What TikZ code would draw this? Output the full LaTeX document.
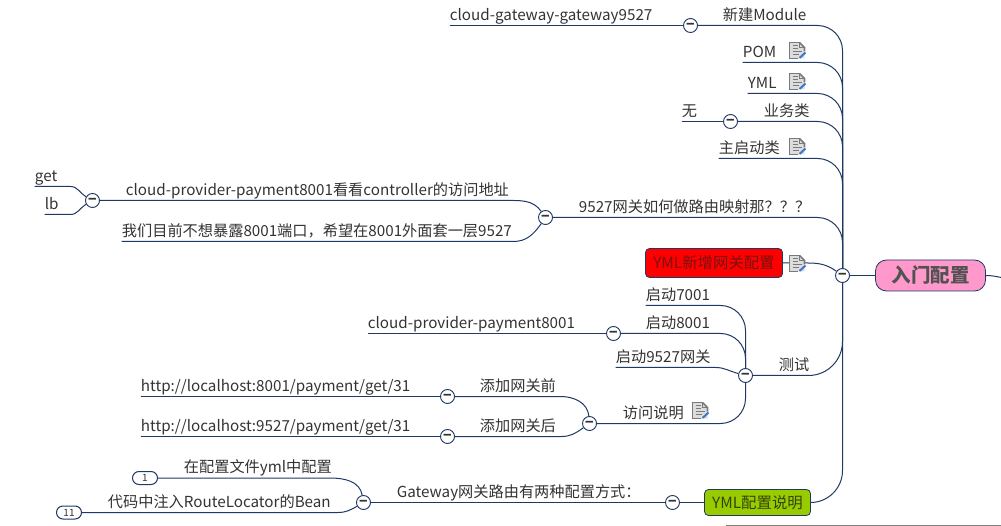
\documentclass[tikz,border=0pt]{standalone}
\usepackage{fontspec}
\setmainfont{Noto Sans CJK SC}
\definecolor{navy}{HTML}{1F3864}
\definecolor{inktext}{HTML}{333333}
\definecolor{notegrey}{HTML}{7A7A7A}
\definecolor{notefill}{HTML}{DDDDDD}
\definecolor{penblue}{HTML}{3F78C8}
\definecolor{pinkroot}{HTML}{FF99CC}
\definecolor{greenbox}{HTML}{99CC00}
\definecolor{redink}{HTML}{7A1010}
\definecolor{greenink}{HTML}{33440A}
\tikzset{
  noteicon/.pic={
    \fill[notefill] (-8,-8) -- (2,-8) -- (7,-3) -- (7,8) -- (-8,8) -- cycle;
    \draw[notegrey,line width=1.6] (2,-8) -- (-8,-8) -- (-8,8) -- (0,8);
    \draw[notegrey,line width=1.6] (2,-8) -- (7,-3) -- (7,1);
    \draw[notegrey,line width=1.2] (2,-8) -- (2,-3) -- (7,-3);
    \draw[notegrey,line width=1.4] (-5,-5) -- (0,-5) (-5,-2) -- (0,-2) (-5,1) -- (4,1) (-5,4) -- (1,4);
    \draw[penblue,line width=2] (2,7.5) -- (8,2);
  }
}
\begin{document}
\begin{tikzpicture}[x=1pt,y=-1pt]
    \tikzstyle{topic} = [anchor=south west, inner xsep=.2, inner ysep=0, text height=11, text depth=5, text=inktext, font=\fontsize{15.2}{17}\selectfont]
    \tikzstyle{cc} = [circle, draw=navy, fill=white, line width=.9, minimum size=14, inner sep=0, text=inktext, text height=7.5, text depth=0, font=\fontsize{14}{14}\selectfont\bfseries]
    \tikzstyle{link} = [draw=navy, line width=1]
    \tikzstyle{roundlink} = [link, rounded corners=25]
    \tikzstyle{box} = [rectangle, rounded corners=4, draw=navy, line width=.8, font=\fontsize{15.4}{17}\selectfont, inner sep=0]
    \tikzstyle{oval} = [rectangle, rounded corners=6.5, draw=navy, line width=1, minimum width=25, minimum height=13, inner sep=0, text=inktext, font=\fontsize{10}{10}\selectfont]
    \useasboundingbox (-.5,-.5) rectangle (1000.5,525.5);
    % root
    \node[box, rounded corners=11, fill=pinkroot, minimum width=110, minimum height=31, text=inktext!85, font=\fontsize{19.5}{22}\selectfont\bfseries] (root) at (930,275) {入门配置};
    \node[cc] (hub) at (842,275) {−};
    \coordinate (rootend) at (1001,277);
    \coordinate (footstart) at (725,525);
    \coordinate (footend) at (1001,525);
    % upper right branches
    \node[cc] (ccmodule) at (690,25) {−};
    \node[topic] at (722,25) (module) {新建Module};
    \node[topic] at (449,25) (gateway) {cloud-gateway-gateway9527};
    \node[topic] at (742,62) (pom) {POM};
    \node[topic] at (747,93) (yml) {YML};
    \node[cc] (ccservice) at (730,121) {−};
    \node[topic] at (763,121) (service) {业务类};
    \node[topic] at (681,121) (none) {无};
    \node[topic] at (718,158) (mainclass) {主启动类};
    % routing question
    \node[cc] (ccmap) at (545,217) {−};
    \node[topic] at (578,217) (mapping) {9527网关如何做路由映射那？？？};
    \node[cc] (ccprovider) at (92,200) {−};
    \node[topic] at (125,200) (provider) {cloud-provider-payment8001看看controller的访问地址};
    \node[topic] at (121,241) (wrap) {我们目前不想暴露8001端口，希望在8001外面套一层9527};
    \node[topic] at (34,186) (get) {get};
    \node[topic] at (44,214) (lb) {lb};
    % red box
    \node[box, fill=red, minimum width=137, minimum height=29, text=redink] (ymlnew) at (713.5,262.5) {YML新增网关配置};
    % test
    \node[cc] (cctest) at (745,375) {−};
    \node[topic] at (778,375) (test) {测试};
    \node[topic] at (645,305) (start7001) {启动7001};
    \node[cc] (ccstart) at (613,333) {−};
    \node[topic] at (645,333) (start8001) {启动8001};
    \node[topic] at (367,333) (payment) {cloud-provider-payment8001};
    \node[topic] at (615,367) (start9527) {启动9527网关};
    \node[cc] (ccvisit) at (589,423) {−};
    \node[topic] at (622,423) (visit) {访问说明};
    \node[cc] (ccbefore) at (447,396) {−};
    \node[topic] at (479,396) (before) {添加网关前};
    \node[topic] at (140,396) (url8001) {http://localhost:8001/payment/get/31};
    \node[cc] (ccafter) at (447,436) {−};
    \node[topic] at (479,436) (after) {添加网关后};
    \node[topic] at (140,436) (url9527) {http://localhost:9527/payment/get/31};
    % green box
    \node[box, fill=greenbox, minimum width=106, minimum height=26, text=greenink] (ymldoc) at (757,502) {YML配置说明};
    \node[cc] (ccdoc) at (672,502) {−};
    \node[topic] at (396,502) (twoways) {Gateway网关路由有两种配置方式：};
    \node[cc] (ccways) at (363,502) {−};
    \node[topic] at (183,477) (inyml) {在配置文件yml中配置};
    \node[topic] at (107,512) (inbean) {代码中注入RouteLocator的Bean};
    \node[oval] (one) at (144.5,477.5) {1};
    \node[oval] (eleven) at (68.5,512) {11};
    % connectors
    \draw[link] (hub) -- (root);
    \draw[link] (root.east) to[out=0,in=170] (rootend);
    \draw[draw=gray, line width=1] (footstart) -- (footend);
    \draw[roundlink] (ccmodule) -| (hub);
    \draw[link] (gateway.south west) -- (ccmodule);
    \draw[roundlink] (pom.south west) -| (hub);
    \draw[roundlink] (yml.south west) -| (hub);
    \draw[roundlink] (ccservice) -| (hub);
    \draw[link] (none.south west) -- (ccservice);
    \draw[roundlink] (mainclass.south west) -| (hub);
    \draw[roundlink] (ccmap) -| (hub);
    \draw[link] (ccprovider) -- ++(413,0) to[out=0,in=125] (ccmap);
    \draw[link] (wrap.south west) -- ++(392,0) to[out=0,in=235] (ccmap);
    \draw[link] (get.south west) -- ++(36,0) to[out=0,in=150] (ccprovider);
    \draw[link] (lb.south west) -- ++(26,0) to[out=0,in=210] (ccprovider);
    \draw[link] (ymlnew.east) -- ++(25,0) to[out=0,in=145] (hub);
    \draw[roundlink, rounded corners=34] (cctest) -| (hub);
    \draw[roundlink] (start7001.south west) -| (cctest);
    \draw[roundlink] (ccstart) -| (cctest);
    \draw[link] (payment.south west) -- (ccstart);
    \draw[link] (start9527.south west) -- ++(100,0) to[out=0,in=165] (cctest);
    \draw[roundlink] (ccvisit) -| (cctest);
    \draw[link] (ccbefore) -- ++(113,0) to[out=0,in=95] (ccvisit);
    \draw[link] (ccafter) -- ++(114,0) to[out=0,in=215] (ccvisit);
    \draw[link] (url8001.south west) -- (ccbefore);
    \draw[link] (url9527.south west) -- (ccafter);
    \draw[roundlink, rounded corners=32] (ymldoc.east) -| (hub);
    \draw[link] (ymldoc) -- (ccdoc);
    \draw[link] (ccways) -- (ccdoc);
    \draw[link] (one.east) -- ++(172,0) to[out=0,in=100] (ccways);
    \draw[link] (eleven.east) -- ++(256,0) to[out=0,in=210] (ccways);
    % note icons
    \pic at (797,50) {noteicon};
    \pic at (797,81) {noteicon};
    \pic at (797,146) {noteicon};
    \pic at (797,263) {noteicon};
    \pic at (700,410) {noteicon};
\end{tikzpicture}
\end{document}
